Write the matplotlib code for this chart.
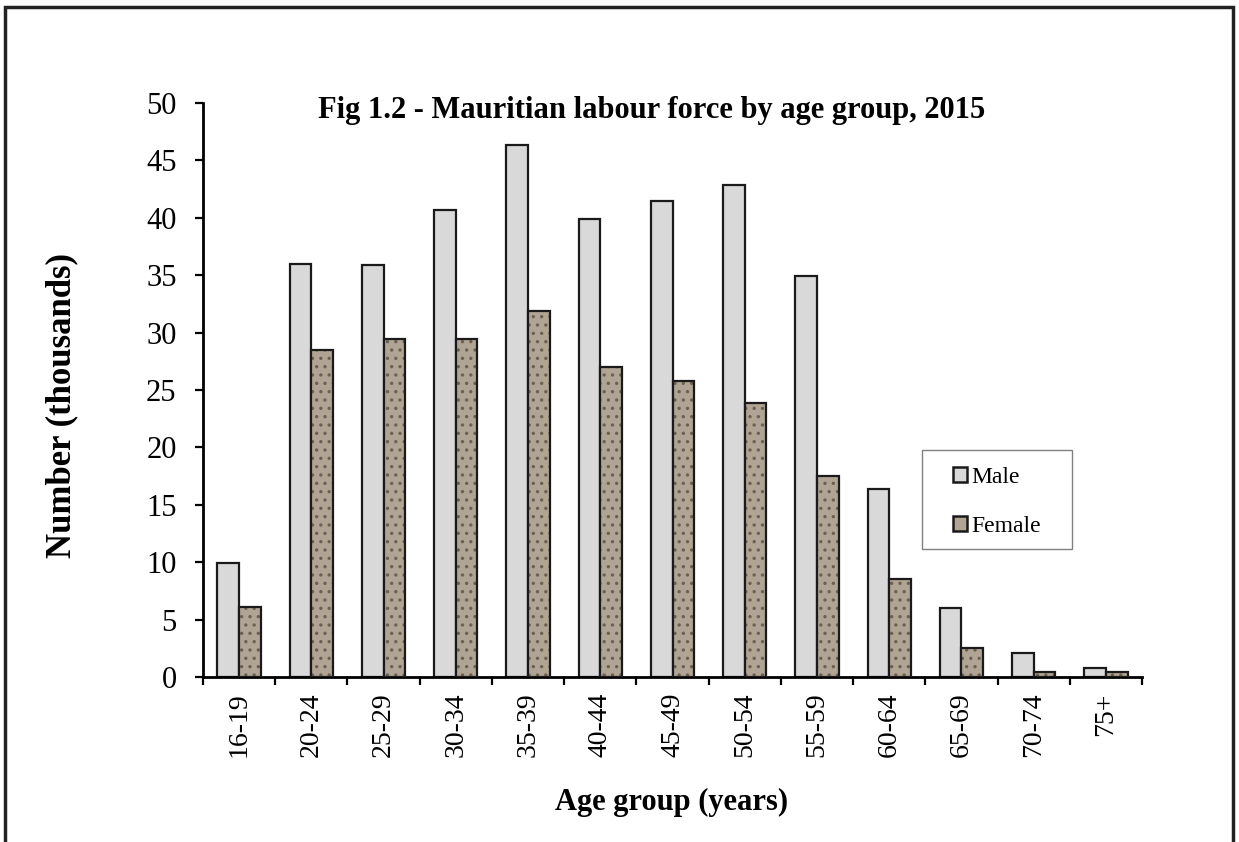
import matplotlib.pyplot as plt
import numpy as np
from matplotlib.patches import Rectangle

# Data (thousands)
age_groups = ["16-19", "20-24", "25-29", "30-34", "35-39", "40-44", "45-49",
              "50-54", "55-59", "60-64", "65-69", "70-74", "75+"]
male = [9.9, 36.0, 35.9, 40.7, 46.3, 39.9, 41.5, 42.9, 34.9, 16.4, 6.0, 2.1, 0.8]
female = [6.1, 28.5, 29.4, 29.4, 31.9, 27.0, 25.8, 23.9, 17.5, 8.5, 2.5, 0.4, 0.4]
y_ticks = [0, 5, 10, 15, 20, 25, 30, 35, 40, 45, 50]

plt.rcParams["font.family"] = ["Liberation Serif", "DejaVu Serif"]
plt.rcParams["hatch.linewidth"] = 1.2

W, H = 1239, 842
fig = plt.figure(figsize=(W / 100, H / 100), dpi=100)
ax = fig.add_axes([203 / W, 1 - 677 / H, 939 / W, 574 / H])

x = np.arange(len(age_groups))
w = 0.30

male_color = "#d9d9d9"
female_color = "#b0a595"

ax.bar(x - w / 2, male, width=w, color=male_color, edgecolor="#1a1a1a",
       linewidth=1.6, zorder=2)
# textured fill for female bars, then outline on top
ax.bar(x + w / 2, female, width=w, color=female_color, edgecolor="#6b6052",
       linewidth=0, hatch="..", zorder=2)
ax.bar(x + w / 2, female, width=w, color="none", edgecolor="#1a1a1a",
       linewidth=1.6, zorder=3)

ax.set_xlim(-0.5, len(age_groups) - 0.5)
ax.set_ylim(0, 50)
ax.set_yticks(y_ticks)
ax.tick_params(axis="y", labelsize=22, length=6, width=1.6, pad=13)

ax.set_xticks(x)
ax.set_xticklabels(age_groups, rotation=90, fontsize=20)
ax.tick_params(axis="x", which="major", length=0, pad=11)
ax.set_xticks(np.arange(len(age_groups) + 1) - 0.5, minor=True)
ax.tick_params(axis="x", which="minor", length=6, width=1.6)

for side in ["top", "right"]:
    ax.spines[side].set_visible(False)
for side in ["left", "bottom"]:
    ax.spines[side].set_linewidth(2)

fig.text(62 / W, 1 - 405 / H, "Number (thousands)", rotation=90,
         ha="center", va="center", fontsize=25, fontweight="bold")
fig.text(672 / W, 1 - 802 / H, "Age group (years)", ha="center",
         va="center", fontsize=22, fontweight="bold")

ax.text((652 - 203) / 939, (677 - 118) / 574,
        "Fig 1.2 - Mauritian labour force by age group, 2015",
        transform=ax.transAxes, ha="center", va="baseline", fontsize=22,
        fontweight="bold")

# legend entries with a separate thin grey frame
male_h = Rectangle((0, 0), 1, 1, facecolor=male_color, edgecolor="#1a1a1a",
                   linewidth=1.8)
female_h = Rectangle((0, 0), 1, 1, facecolor=female_color, edgecolor="#1a1a1a",
                     linewidth=1.8)
ax.legend([male_h, female_h], ["Male", "Female"], loc="upper left",
          bbox_to_anchor=(953 / W, 1 - 467 / H),
          bbox_transform=fig.transFigure, fontsize=17, frameon=False,
          handlelength=0.6, handleheight=0.6, handletextpad=0.17,
          labelspacing=1.17, borderpad=0, borderaxespad=0)
fig.patches.append(Rectangle((922 / W, 1 - 549 / H), 150 / W, 99 / H,
                             transform=fig.transFigure, fill=False,
                             edgecolor="#808080", linewidth=1.0))

# outer border of the figure (bottom edge runs off the image)
fig.patches.append(Rectangle((5 / W, -0.05), 1228 / W, 1.05 - 7 / H,
                             transform=fig.transFigure, fill=False,
                             edgecolor="#222222", linewidth=2.5))

fig.savefig("out.png", dpi=100)
